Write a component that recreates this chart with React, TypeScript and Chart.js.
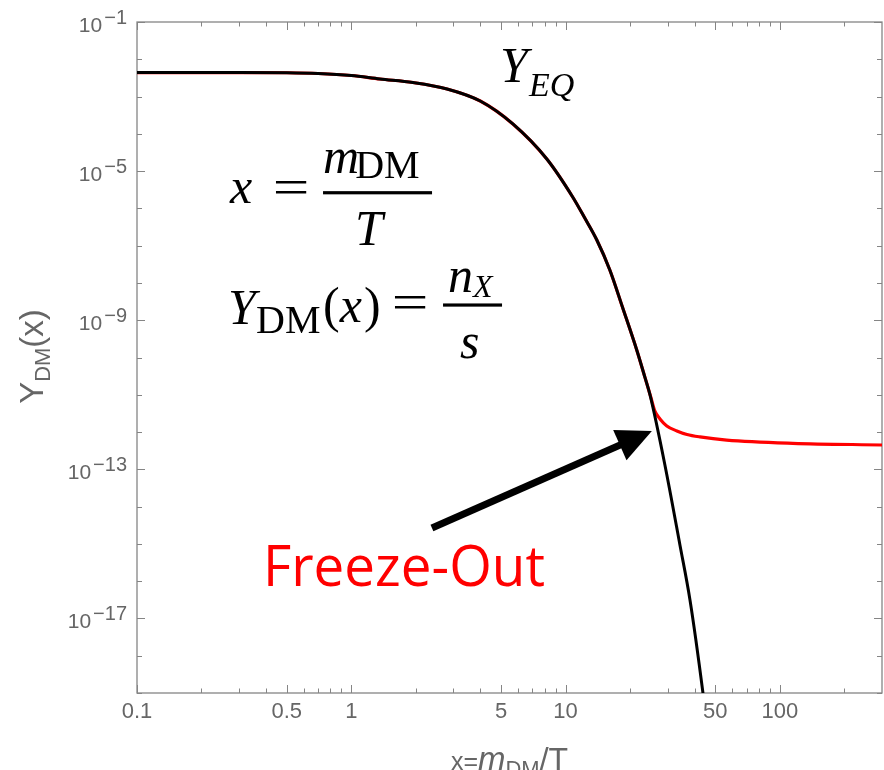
import React, { useEffect, useRef } from 'react';
import { Chart, registerables } from 'chart.js';

Chart.register(...registerables);

// ---------- data ----------
// equilibrium abundance Y_EQ (black)
const xEq = [0.1, 0.3, 0.5, 0.7, 1.0, 1.36, 1.94, 2.8, 4.0, 5.68, 8.18, 10.8, 12.3, 14.0, 16.1, 18.5, 21.5, 23.5, 24.8, 29.1, 34.2, 38.1, 43.8, 45.5];
const yEq = [4.4e-3, 4.4e-3, 4.35e-3, 4.16e-3, 3.67e-3, 2.96e-3, 2.38e-3, 1.6e-3, 7.6e-4, 1.84e-4, 2.11e-5, 2.02e-6, 5.5e-7, 1.42e-7, 2.23e-8, 2.13e-9, 1.59e-10, 2.88e-11, 9.9e-12, 1.31e-13, 9.35e-16, 3.13e-17, 1.0e-19, 1.6e-20];

// actual dark-matter abundance Y_DM (red)
const xDm = [0.1, 0.3, 0.5, 0.7, 1.0, 1.36, 1.94, 2.8, 4.0, 5.68, 8.18, 10.8, 12.3, 14.0, 16.1, 18.5, 21.5, 23.5, 25.0, 26.1, 27.6, 29.7, 33.1, 36.9, 42.4, 56.5, 115, 300];
const yDm = [4.4e-3, 4.4e-3, 4.35e-3, 4.16e-3, 3.67e-3, 2.96e-3, 2.38e-3, 1.6e-3, 7.6e-4, 1.84e-4, 2.11e-5, 2.02e-6, 5.5e-7, 1.42e-7, 2.23e-8, 2.13e-9, 1.59e-10, 2.88e-11, 8.7e-12, 3.68e-12, 2.25e-12, 1.46e-12, 1.07e-12, 8.6e-13, 7.4e-13, 6.1e-13, 5.0e-13, 4.5e-13];

// axis ticks
const xTickValues = [0.1, 0.2, 0.3, 0.4, 0.5, 0.6, 0.7, 0.8, 0.9, 1, 2, 3, 4, 5, 6, 7, 8, 9, 10, 20, 30, 40, 50, 60, 70, 80, 90, 100, 200];
const xTickLabels = ['0.1', '', '', '', '0.5', '', '', '', '', '1', '', '', '', '5', '', '', '', '', '10', '', '', '', '50', '', '', '', '', '100', ''];
const yTickValues = [1e-1, 1e-2, 1e-3, 1e-4, 1e-5, 1e-6, 1e-7, 1e-8, 1e-9, 1e-10, 1e-11, 1e-12, 1e-13, 1e-14, 1e-15, 1e-16, 1e-17, 1e-18, 1e-19];
const yTickExponents = ['1', '', '', '', '5', '', '', '', '9', '', '', '', '13', '', '', '', '17', '', ''];

// annotation anchors (data coordinates)
const yeqLabelAt = [4.94, 2.46e-3];
const formulaAt = [0.266, 1.4e-6];
const freezeLabelAt = [0.387, 7.4e-17];
const arrowTail = [2.38, 2.67e-15];
const arrowTip = [25.3, 1.07e-12];

const TEXT_GRAY = '#666666';
const FRAME_GRAY = '#858585';
const SANS = '"Liberation Sans", Arial, sans-serif';
const SERIF = '"Liberation Serif", "Times New Roman", serif';

function drawEq(ctx: CanvasRenderingContext2D, cx: number, baseline: number) {
  ctx.save();
  ctx.translate(cx, baseline);
  ctx.scale(1.3, 1);
  ctx.font = `50px ${SERIF}`;
  ctx.textAlign = 'center';
  ctx.fillText('=', 0, 0);
  ctx.restore();
}

const decorPlugin = {
  id: 'decor',
  beforeDatasetsDraw(chart: any) {
    const ctx: CanvasRenderingContext2D = chart.ctx;
    const { left, right, top, bottom } = chart.chartArea;
    const xs = chart.scales.x;
    const ys = chart.scales.y;
    ctx.save();
    ctx.strokeStyle = FRAME_GRAY;
    ctx.lineWidth = 1.3;
    ctx.strokeRect(left, top, right - left, bottom - top);
    ctx.lineWidth = 1;
    ctx.beginPath();
    xTickValues.forEach((v, i) => {
      const px = Math.round(xs.getPixelForValue(v)) + 0.5;
      const len = xTickLabels[i] ? 8 : 4.5;
      ctx.moveTo(px, bottom); ctx.lineTo(px, bottom - len);
      ctx.moveTo(px, top); ctx.lineTo(px, top + len);
    });
    yTickValues.forEach((v, i) => {
      const py = Math.round(ys.getPixelForValue(v)) + 0.5;
      const len = yTickExponents[i] ? 8 : 5;
      ctx.moveTo(left, py); ctx.lineTo(left + len, py);
      ctx.moveTo(right, py); ctx.lineTo(right - len, py);
    });
    ctx.stroke();

    // y tick labels 10^-n
    ctx.fillStyle = TEXT_GRAY;
    ctx.textBaseline = 'alphabetic';
    ctx.textAlign = 'left';
    yTickValues.forEach((v, i) => {
      const e = yTickExponents[i];
      if (!e) return;
      const py = ys.getPixelForValue(v);
      const sup = '\u2212' + e;
      const supFont = `20px ${SANS}`;
      const baseFont = `21px ${SANS}`;
      ctx.font = supFont;
      const ws = ctx.measureText(sup).width;
      ctx.font = baseFont;
      const wb = ctx.measureText('10').width;
      const xr = left - 10;
      ctx.fillText('10', xr - ws - wb - 2, py + 10);
      ctx.font = supFont;
      ctx.fillText(sup, xr - ws, py + 1.5);
    });

    // x axis title: x=m_DM/T
    const cx = (left + right) / 2;
    const partsX: [string, string, number][] = [
      ['x=', `25px ${SANS}`, 0],
      ['m', `italic 33px ${SANS}`, 0],
      ['DM', `22px ${SANS}`, 6],
      ['/T', `32px ${SANS}`, 0],
    ];
    let total = 0;
    partsX.forEach(([t, f]) => { ctx.font = f; total += ctx.measureText(t).width; });
    let xx = cx - total / 2;
    const bx = 770;
    partsX.forEach(([t, f, dy]) => { ctx.font = f; ctx.fillText(t, xx, bx + dy); xx += ctx.measureText(t).width; });

    // y axis title: Y_DM(x) rotated
    const partsY: [string, string, number][] = [
      ['Y', `33px ${SANS}`, 0],
      ['DM', `22px ${SANS}`, 7],
      ['(x)', `33px ${SANS}`, 0],
    ];
    let totY = 0;
    partsY.forEach(([t, f]) => { ctx.font = f; totY += ctx.measureText(t).width; });
    ctx.save();
    ctx.translate(43, (top + bottom) / 2 - 1);
    ctx.rotate(-Math.PI / 2);
    let yy = -totY / 2;
    partsY.forEach(([t, f, dy]) => { ctx.font = f; ctx.fillText(t, yy, dy); yy += ctx.measureText(t).width; });
    ctx.restore();
    ctx.restore();
  },
  afterDatasetsDraw(chart: any) {
    const ctx: CanvasRenderingContext2D = chart.ctx;
    const xs = chart.scales.x;
    const ys = chart.scales.y;
    const P = (p: number[]) => [xs.getPixelForValue(p[0]), ys.getPixelForValue(p[1])];
    ctx.save();
    ctx.textAlign = 'left';
    ctx.textBaseline = 'alphabetic';
    ctx.fillStyle = '#000';

    // Y_EQ label
    const [ex, ey] = P(yeqLabelAt);
    ctx.font = `italic 50px ${SERIF}`;
    ctx.fillText('Y', ex, ey);
    ctx.font = `italic 34px ${SERIF}`;
    ctx.fillText('EQ', ex + 29, ey + 14);

    // formulas
    const [X0, B1] = P(formulaAt);
    ctx.font = `italic 50px ${SERIF}`;
    ctx.fillText('x', X0 + 2, B1);
    drawEq(ctx, X0 + 63, B1 + 1.5);
    ctx.fillRect(X0 + 95, B1 - 11.8, 109, 3.2);
    ctx.font = `italic 50px ${SERIF}`;
    ctx.fillText('m', X0 + 95, B1 - 30);
    const mw = ctx.measureText('m').width;
    ctx.font = `40px ${SERIF}`;
    ctx.fillText('DM', X0 + 95 + mw - 4, B1 - 25);
    ctx.font = `italic 50px ${SERIF}`;
    ctx.fillText('T', X0 + 127, B1 + 42);

    const B2 = B1 + 121;
    ctx.font = `italic 50px ${SERIF}`;
    ctx.fillText('Y', X0, B2);
    ctx.font = `40px ${SERIF}`;
    ctx.fillText('DM', X0 + 28, B2 + 9);
    let px = X0 + 95;
    ctx.font = `50px ${SERIF}`;
    ctx.fillText('(', px, B2 - 2);
    px += ctx.measureText('(').width;
    ctx.font = `italic 50px ${SERIF}`;
    ctx.fillText('x', px, B2 - 2);
    px += ctx.measureText('x').width + 2;
    ctx.font = `50px ${SERIF}`;
    ctx.fillText(')', px, B2 - 2);
    drawEq(ctx, X0 + 182, B2 - 5);
    ctx.fillRect(X0 + 215, B2 - 20.5, 59, 3.2);
    ctx.font = `italic 50px ${SERIF}`;
    ctx.fillText('n', X0 + 220, B2 - 32);
    ctx.font = `italic 32px ${SERIF}`;
    ctx.fillText('X', X0 + 245, B2 - 27);
    ctx.font = `italic 50px ${SERIF}`;
    ctx.fillText('s', X0 + 232, B2 + 34);

    // Freeze-Out label
    const [fx, fy] = P(freezeLabelAt);
    ctx.fillStyle = '#ff0000';
    ctx.font = `57px "Open Sans", ${SANS}`;
    const fw = ctx.measureText('Freeze-Out').width;
    ctx.save();
    ctx.translate(fx, fy);
    ctx.scale(282 / fw, 1);
    ctx.fillText('Freeze-Out', 0, 0);
    ctx.restore();

    // arrow
    const [tx, ty] = P(arrowTail);
    const [hx, hy] = P(arrowTip);
    const dx = hx - tx, dy = hy - ty;
    const L = Math.hypot(dx, dy);
    const ux = dx / L, uy = dy / L;
    const nx = -uy, ny = ux;
    const headLen = 35, headHalf = 16.5;
    ctx.strokeStyle = '#000';
    ctx.fillStyle = '#000';
    ctx.lineWidth = 7;
    ctx.lineCap = 'butt';
    ctx.beginPath();
    ctx.moveTo(tx, ty);
    ctx.lineTo(hx - ux * (headLen - 4), hy - uy * (headLen - 4));
    ctx.stroke();
    ctx.beginPath();
    ctx.moveTo(hx, hy);
    ctx.lineTo(hx - ux * headLen + nx * headHalf, hy - uy * headLen + ny * headHalf);
    ctx.lineTo(hx - ux * headLen - nx * headHalf, hy - uy * headLen - ny * headHalf);
    ctx.closePath();
    ctx.fill();
    ctx.restore();
  },
};

export default function App() {
  const canvasRef = useRef<HTMLCanvasElement | null>(null);

  useEffect(() => {
    document.body.style.margin = '0';
    const canvas = canvasRef.current;
    if (!canvas) return;
    const chart = new Chart(canvas, {
      type: 'line',
      data: {
        datasets: [
          {
            label: 'Y_EQ',
            data: xEq.map((x, i) => ({ x, y: yEq[i] })),
            borderColor: '#000000',
            borderWidth: 3,
            pointRadius: 0,
            fill: false,
            cubicInterpolationMode: 'monotone',
          },
          {
            label: 'Y_DM',
            data: xDm.map((x, i) => ({ x, y: yDm[i] })),
            borderColor: '#ff0000',
            borderWidth: 3.2,
            pointRadius: 0,
            fill: false,
            cubicInterpolationMode: 'monotone',
          },
        ],
      },
      options: {
        animation: false,
        responsive: false,
        maintainAspectRatio: false,
        devicePixelRatio: 1,
        layout: { padding: { top: 22, right: 2, left: 0, bottom: 0 } },
        plugins: {
          legend: { display: false },
          tooltip: { enabled: false },
          title: { display: false },
        },
        scales: {
          x: {
            type: 'logarithmic',
            min: 0.1,
            max: 300,
            position: 'bottom',
            afterBuildTicks: (s: any) => { s.ticks = xTickValues.map((v) => ({ value: v })); },
            afterFit: (s: any) => { s.height = 77; },
            grid: { display: false, drawTicks: false },
            border: { display: false },
            ticks: {
              autoSkip: false,
              maxRotation: 0,
              minRotation: 0,
              padding: 6,
              color: TEXT_GRAY,
              font: { family: SANS, size: 22 },
              callback: (_v: any, i: number) => xTickLabels[i] ?? '',
            },
          },
          y: {
            type: 'logarithmic',
            min: 1e-19,
            max: 1e-1,
            position: 'left',
            afterBuildTicks: (s: any) => { s.ticks = yTickValues.map((v) => ({ value: v })); },
            afterFit: (s: any) => { s.width = 137; },
            grid: { display: false, drawTicks: false },
            border: { display: false },
            ticks: { display: false },
          },
        },
      },
      plugins: [decorPlugin],
    } as any);
    return () => chart.destroy();
  }, []);

  return (
    <div style={{ width: 884, height: 770 }}>
      <canvas ref={canvasRef} width={884} height={770} style={{ display: 'block' }} />
    </div>
  );
}
